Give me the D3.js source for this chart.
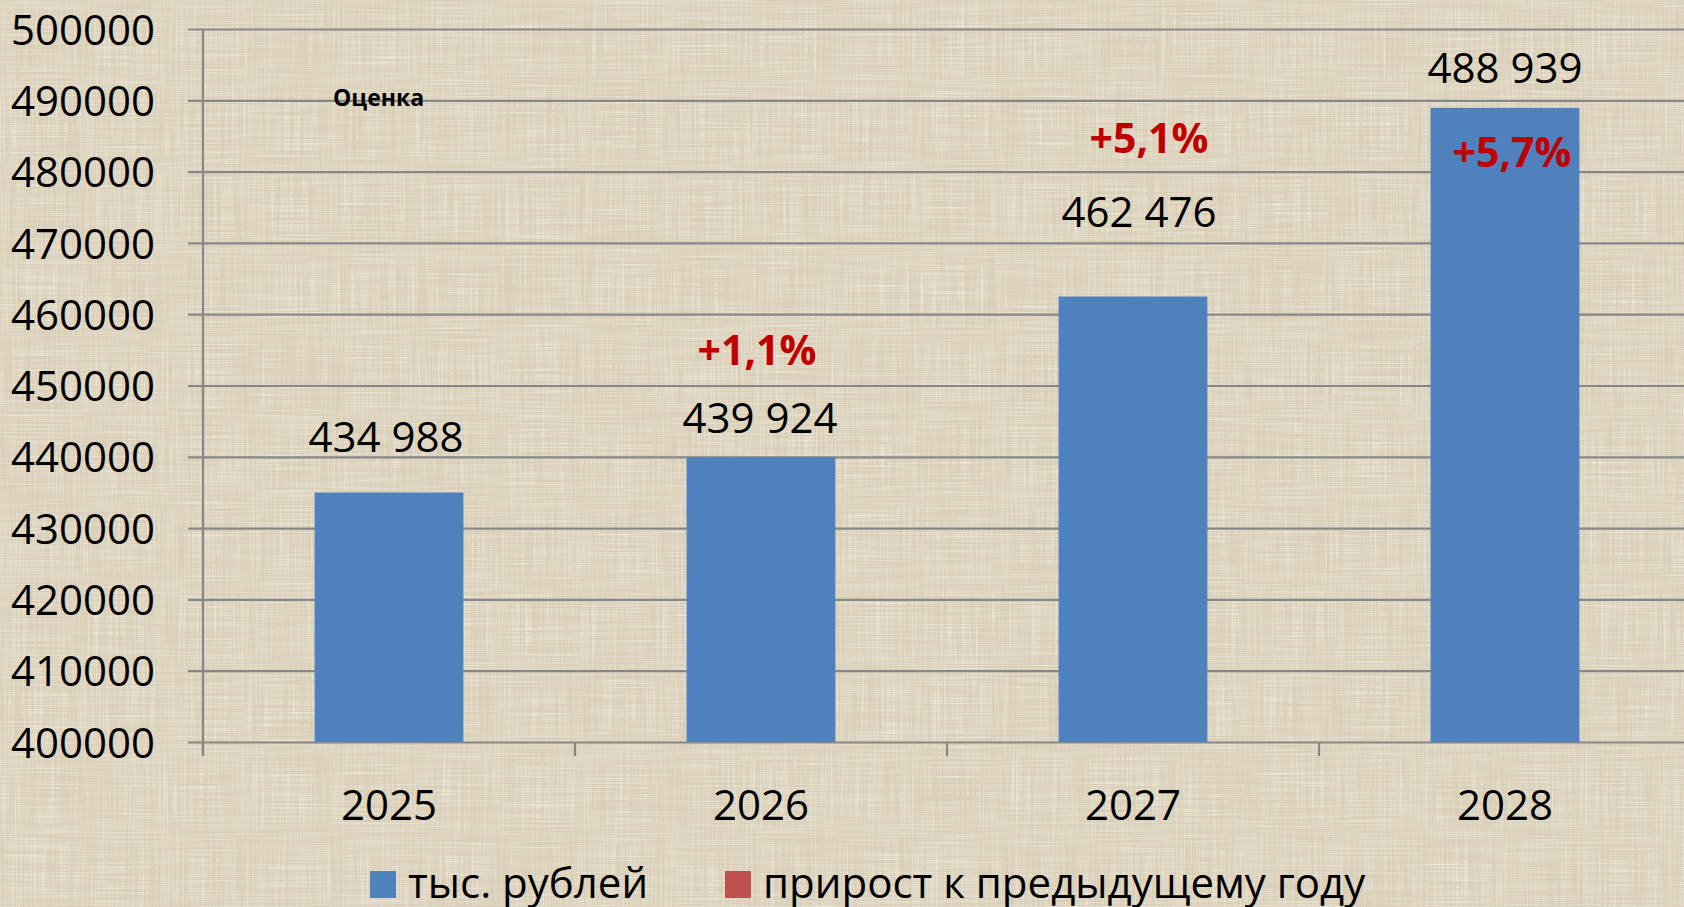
<!DOCTYPE html>
<html>
<head>
<meta charset="utf-8">
<script src="https://cdn.jsdelivr.net/npm/d3@7"></script>
<style>
  html, body { margin: 0; padding: 0; overflow: hidden; }
  svg { display: block; font-family: "Open Sans", "Noto Sans", sans-serif; }
</style>
</head>
<body>
<svg id="chart"></svg>
<script>
// data
const years = ["2025", "2026", "2027", "2028"];
const values = [434988, 439924, 462476, 488939];
const valueLabels = ["434 988", "439 924", "462 476", "488 939"];
const growthLabels = ["", "+1,1%", "+5,1%", "+5,7%"];
const yTicks = [400000, 410000, 420000, 430000, 440000, 450000, 460000, 470000, 480000, 490000, 500000];
const legendItems = ["тыс. рублей", "прирост к предыдущему году"];

const W = 1684, H = 907;
const margin = { top: 29, left: 203, bottom: 165 };
const plotBottom = H - margin.bottom + 0; // 742

const svg = d3.select("#chart").attr("width", W).attr("height", H);

// linen-like background texture
const defs = svg.append("defs");
const f = defs.append("filter").attr("id", "linen")
    .attr("x", 0).attr("y", 0).attr("width", "100%").attr("height", "100%");
f.append("feTurbulence").attr("type", "fractalNoise")
    .attr("baseFrequency", "0.9 0.012").attr("numOctaves", 2).attr("seed", 3).attr("result", "v");
f.append("feTurbulence").attr("type", "fractalNoise")
    .attr("baseFrequency", "0.012 0.9").attr("numOctaves", 2).attr("seed", 7).attr("result", "h");
f.append("feComposite").attr("in", "v").attr("in2", "h")
    .attr("operator", "arithmetic").attr("k2", 0.5).attr("k3", 0.5).attr("result", "n");
f.append("feColorMatrix").attr("in", "n").attr("type", "matrix")
    .attr("values", "0 0 0 0 0.93  0 0 0 0 0.90  0 0 0 0 0.83  2.2 0 0 0 -0.95");

svg.append("rect").attr("width", W).attr("height", H).attr("fill", "#d9cfb8");
svg.append("rect").attr("width", W).attr("height", H).attr("filter", "url(#linen)");

const x = d3.scaleBand().domain(years).range([203, 1691]).paddingInner(0.6).paddingOuter(0.3);
const y = d3.scaleLinear().domain([400000, 500000]).range([742, 29]);

// gridlines + y labels
const yAxis = svg.append("g")
    .attr("transform", "translate(188,0)")
    .call(d3.axisLeft(y).tickValues(yTicks).tickSize(-(W - 188)).tickPadding(33).tickFormat(d3.format("d")));
yAxis.select(".domain").remove();
yAxis.selectAll(".tick line").attr("stroke", "#878787").attr("stroke-width", 2.2);
yAxis.selectAll(".tick text").attr("fill", "#000").style("font-size", "42px")
    .attr("font-family", "'Open Sans', sans-serif").attr("dy", "0.36em");

// vertical axis line
svg.append("line").attr("x1", 203).attr("x2", 203).attr("y1", y(500000)).attr("y2", 756)
    .attr("stroke", "#878787").attr("stroke-width", 2.2);

// category boundary ticks
const bounds = d3.range(years.length).map(i => 203 + i * x.step());
svg.selectAll(".xtick").data(bounds).enter().append("line")
    .attr("x1", d => d).attr("x2", d => d).attr("y1", y(400000)).attr("y2", 756)
    .attr("stroke", "#878787").attr("stroke-width", 2.2);

// bars
svg.selectAll(".bar").data(years).enter().append("rect")
    .attr("class", "bar")
    .attr("x", d => x(d))
    .attr("width", x.bandwidth())
    .attr("y", (d, i) => y(values[i]))
    .attr("height", (d, i) => y(400000) - y(values[i]))
    .attr("fill", "#4f81bd");

// x labels
const xAxis = svg.append("g")
    .attr("transform", `translate(0,${y(400000)})`)
    .call(d3.axisBottom(x).tickSize(0).tickPadding(0));
xAxis.select(".domain").remove();
xAxis.selectAll(".tick text").attr("fill", "#000").style("font-size", "42px")
    .attr("font-family", "'Open Sans', sans-serif").attr("dy", "1.85em");

// value labels (placed as in the original)
const valueOffsets = [-41, -24, -70, -25];
const valueShift = [-3, -1, 6, 0];
svg.selectAll(".vlab").data(years).enter().append("text")
    .attr("x", (d, i) => x(d) + x.bandwidth() / 2 + valueShift[i])
    .attr("y", (d, i) => y(values[i]) + valueOffsets[i])
    .attr("text-anchor", "middle")
    .style("font-size", "42px")
    .attr("fill", "#000")
    .text((d, i) => valueLabels[i]);

// growth labels
const growthY = [0, 365, 153, 167];
const growthShift = [0, -4, 16, 7];
svg.selectAll(".glab").data(years).enter().append("text")
    .attr("x", (d, i) => x(d) + x.bandwidth() / 2 + growthShift[i])
    .attr("y", (d, i) => growthY[i])
    .attr("text-anchor", "middle")
    .style("font-size", "41px")
    .style("font-weight", "bold")
    .attr("fill", "#c00000")
    .text((d, i) => growthLabels[i]);

svg.append("text").attr("x", 333).attr("y", 106)
    .style("font-size", "23px").style("font-weight", "bold").attr("fill", "#000")
    .text("Оценка");

// legend
const legendX = [370, 725];
const legendColors = ["#4f81bd", "#c0504d"];
const lg = svg.selectAll(".lg").data(legendItems).enter().append("g")
    .attr("transform", (d, i) => `translate(${legendX[i]},871)`);
lg.append("rect").attr("width", 26).attr("height", 27).attr("fill", (d, i) => legendColors[i]);
lg.append("text").attr("x", 38).attr("y", 27)
    .style("font-size", "42px").attr("fill", "#000").text(d => d);
</script>
</body>
</html>
